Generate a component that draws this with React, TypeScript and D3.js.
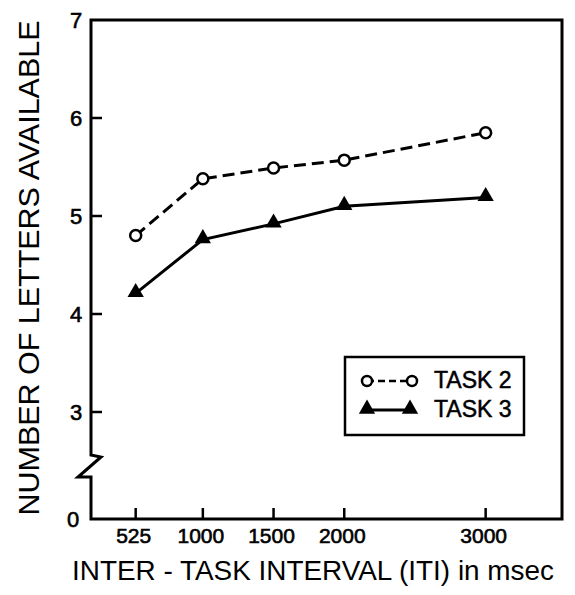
import React from 'react';
import * as d3 from 'd3';

// inter-task interval (msec)
const intervals = [525, 1000, 1500, 2000, 3000];
const task2 = [4.8, 5.38, 5.49, 5.57, 5.85];
const task3 = [4.21, 4.76, 4.92, 5.1, 5.19];
const yTicks = [3, 4, 5, 6, 7];

const W = 575;
const H = 595;
const left = 91;
const right = 562;
const top = 20;
const bottom = 519;

const App: React.FC = () => {
  const x = d3.scaleLinear().domain([209, 3540]).range([left, right]);
  const y = d3.scaleLinear().domain([3, 7]).range([412, top]);

  const line = d3.line<number>()
    .x((_, i) => x(intervals[i]))
    .y(d => y(d));

  const tri = d3.symbol(d3.symbolTriangle, 115)();

  // frame with axis break between 0 and 3
  const yb = y(3) + 43;
  const frame = d3.path();
  frame.moveTo(left, top);
  frame.lineTo(right, top);
  frame.lineTo(right, bottom);
  frame.lineTo(left, bottom);
  frame.lineTo(left, yb + 22);
  frame.lineTo(left - 13, yb + 22);
  frame.lineTo(left + 10, yb + 2);
  frame.lineTo(left, yb);
  frame.closePath();

  const font = '"Liberation Sans", Arial, sans-serif';

  return (
    <svg width={W} height={H} style={{ position: 'absolute', left: 0, top: 0 }} fontFamily={font}>
      <rect width={W} height={H} fill="#fff" />
      <path d={frame.toString()} fill="none" stroke="#000" strokeWidth={3} strokeLinejoin="miter" />

      {yTicks.map(t => (
        <g key={t}>
          {t < 7 && <line x1={left} x2={left + 11} y1={y(t)} y2={y(t)} stroke="#000" strokeWidth={2.5} />}
          <text x={76} y={y(t)} dy="0.36em" textAnchor="middle" fontSize={22} stroke="#000" strokeWidth={0.6}>{t}</text>
        </g>
      ))}
      <text x={73} y={bottom} dy="0.36em" textAnchor="middle" fontSize={22} stroke="#000" strokeWidth={0.6}>0</text>

      {intervals.map(v => (
        <g key={v}>
          <line x1={x(v)} x2={x(v)} y1={bottom} y2={bottom - 11} stroke="#000" strokeWidth={2.5} />
          <text x={x(v) - 2} y={543} textAnchor="middle" fontSize={21} stroke="#000" strokeWidth={0.6}>{v}</text>
        </g>
      ))}

      <path d={line(task2) || ''} fill="none" stroke="#000" strokeWidth={3} strokeDasharray="12,6" />
      <path d={line(task3) || ''} fill="none" stroke="#000" strokeWidth={3} />

      {task2.map((v, i) => (
        <circle key={i} cx={x(intervals[i])} cy={y(v)} r={5.5} fill="#fff" stroke="#000" strokeWidth={2.5} />
      ))}
      {task3.map((v, i) => (
        <path key={i} d={tri || ''} transform={`translate(${x(intervals[i])},${y(v) - 1})`} fill="#000" />
      ))}

      <g>
        <rect x={345} y={357} width={179} height={78} fill="#fff" stroke="#000" strokeWidth={2.5} />
        <line x1={367} x2={412} y1={381} y2={381} stroke="#000" strokeWidth={2.5} strokeDasharray="7,4" />
        <circle cx={367} cy={381} r={5} fill="#fff" stroke="#000" strokeWidth={2.5} />
        <circle cx={412} cy={381} r={5} fill="#fff" stroke="#000" strokeWidth={2.5} />
        <text x={434} y={388} fontSize={23} stroke="#000" strokeWidth={0.5}>TASK 2</text>
        <line x1={367} x2={410} y1={410} y2={410} stroke="#000" strokeWidth={3} />
        <path d={tri || ''} transform="translate(367,409)" fill="#000" />
        <path d={tri || ''} transform="translate(410,409)" fill="#000" />
        <text x={434} y={417} fontSize={23} stroke="#000" strokeWidth={0.5}>TASK 3</text>
      </g>

      <text transform="translate(39,268) rotate(-90)" textAnchor="middle" fontSize={29}
        textLength={495} lengthAdjust="spacingAndGlyphs">NUMBER OF LETTERS AVAILABLE</text>
      <text x={72} y={580} fontSize={27} textLength={482} lengthAdjust="spacingAndGlyphs">
        INTER - TASK INTERVAL (ITI) in msec
      </text>
    </svg>
  );
};

export default App;
